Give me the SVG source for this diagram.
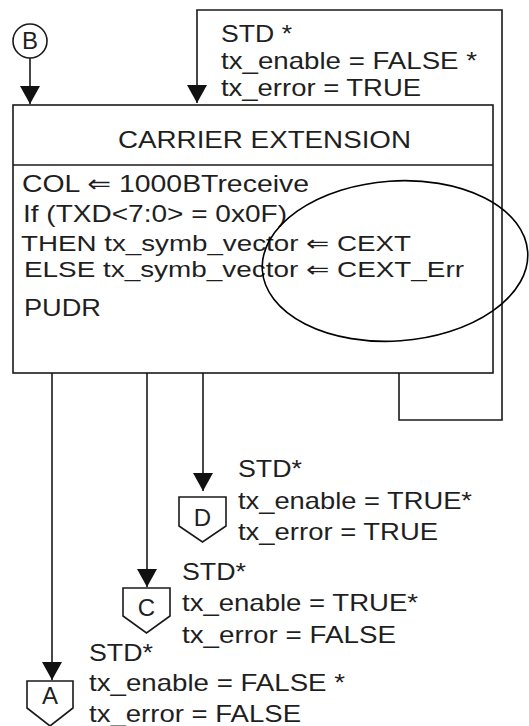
<svg xmlns="http://www.w3.org/2000/svg" width="529" height="726" viewBox="0 0 529 726">
<style>
.ln{fill:none;stroke:#1a1a1a;stroke-width:1.6}
.sh{fill:#fff;stroke:#1a1a1a;stroke-width:1.6}
.t{font-family:"Liberation Sans",Arial,"DejaVu Sans",sans-serif;font-size:24px;fill:#1f1f1f}
.s{font-size:22px}
.c{text-anchor:middle}
</style>
<defs>
<marker id="arr" markerUnits="userSpaceOnUse" markerWidth="19" markerHeight="22" viewBox="0 -11 19 22" refX="18" refY="0" orient="auto">
<path d="M0,-10 L18,0 L0,10 Z" fill="#111"/>
</marker>
</defs>
<rect width="529" height="726" fill="#fff"/>
<g id="connectors">
<path class="ln" d="M30,58 V104" marker-end="url(#arr)"/>
<path class="ln" d="M399,373 V420 H502 V10 H197 V103" marker-end="url(#arr)"/>
<path class="ln" d="M203,373 V491" marker-end="url(#arr)"/>
<path class="ln" d="M147,373 V587" marker-end="url(#arr)"/>
<path class="ln" d="M52,373 V680" marker-end="url(#arr)"/>
<g id="label-loop">
<text class="t" x="221" y="42" textLength="71" lengthAdjust="spacingAndGlyphs">STD *</text>
<text class="t" x="221" y="69" textLength="256" lengthAdjust="spacingAndGlyphs">tx_enable = FALSE *</text>
<text class="t" x="221" y="96" textLength="200" lengthAdjust="spacingAndGlyphs">tx_error = TRUE</text>
</g>
<g id="label-D">
<text class="t" x="238" y="477" textLength="64" lengthAdjust="spacingAndGlyphs">STD*</text>
<text class="t" x="238" y="509" textLength="234" lengthAdjust="spacingAndGlyphs">tx_enable = TRUE*</text>
<text class="t" x="238" y="540" textLength="200" lengthAdjust="spacingAndGlyphs">tx_error = TRUE</text>
</g>
<g id="label-C">
<text class="t" x="182" y="580" textLength="64" lengthAdjust="spacingAndGlyphs">STD*</text>
<text class="t" x="182" y="611" textLength="236" lengthAdjust="spacingAndGlyphs">tx_enable = TRUE*</text>
<text class="t" x="182" y="643" textLength="214" lengthAdjust="spacingAndGlyphs">tx_error = FALSE</text>
</g>
<g id="label-A">
<text class="t" x="89" y="661" textLength="64" lengthAdjust="spacingAndGlyphs">STD*</text>
<text class="t" x="89" y="691" textLength="256" lengthAdjust="spacingAndGlyphs">tx_enable = FALSE *</text>
<text class="t" x="89" y="722" textLength="212" lengthAdjust="spacingAndGlyphs">tx_error = FALSE</text>
</g>
</g>
<g id="node-B">
<circle class="sh" cx="30" cy="41" r="17"/>
<text class="t c" x="30" y="49">B</text>
</g>
<g id="node-carrier-extension">
<rect class="sh" x="13" y="105" width="480" height="268"/>
<line class="ln" x1="13" y1="165" x2="493" y2="165"/>
<text class="t" x="118" y="148" textLength="293" lengthAdjust="spacingAndGlyphs">CARRIER EXTENSION</text>
<text class="t" x="22" y="192" textLength="287" lengthAdjust="spacingAndGlyphs">COL  ⇐ 1000BTreceive</text>
<text class="t" x="23" y="222" textLength="264" lengthAdjust="spacingAndGlyphs">If (TXD&lt;7:0&gt; = 0x0F)</text>
<text class="t s" x="21" y="251" textLength="390" lengthAdjust="spacingAndGlyphs">THEN tx_symb_vector ⇐ CEXT</text>
<text class="t s" x="24" y="276.5" textLength="440" lengthAdjust="spacingAndGlyphs">ELSE tx_symb_vector ⇐ CEXT_Err</text>
<text class="t" x="24" y="316" textLength="77" lengthAdjust="spacingAndGlyphs">PUDR</text>
</g>
<g id="annotation-ellipse">
<ellipse cx="395" cy="261" rx="133" ry="80" fill="none" stroke="#000" stroke-width="1.6" transform="rotate(-4 395 261)"/>
</g>
<g id="node-D">
<path class="sh" d="M179,497 H226 V526 L202.5,542 L179,526 Z"/>
<text class="t c" x="202.5" y="526">D</text>
</g>
<g id="node-C">
<path class="sh" d="M123,588 H170 V616 L146.5,633 L123,616 Z"/>
<text class="t c" x="146.5" y="616">C</text>
</g>
<g id="node-A">
<path class="sh" d="M27,681 H73 V708 L50,726 L27,708 Z"/>
<text class="t c" x="50" y="704">A</text>
</g>
</svg>
